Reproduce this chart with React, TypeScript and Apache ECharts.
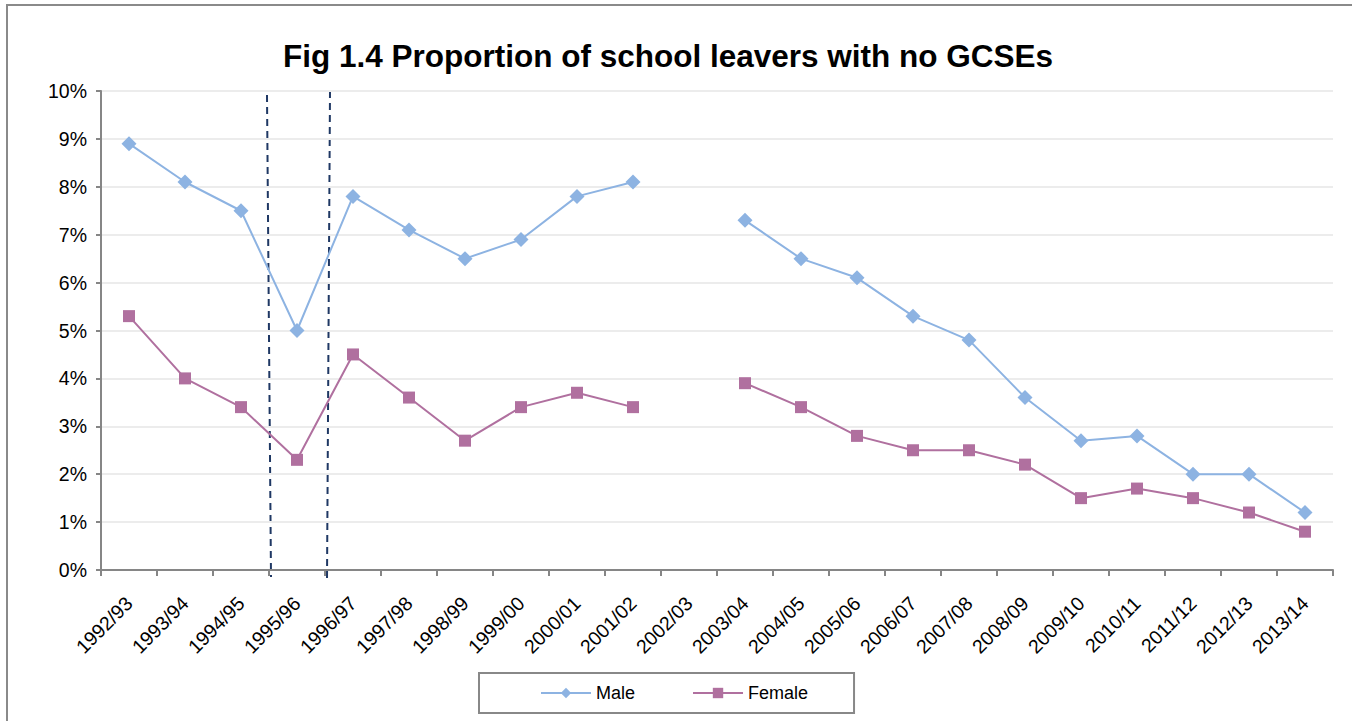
import React, { useEffect, useRef } from "react";
import * as echarts from "echarts";

const categories = [
  "1992/93", "1993/94", "1994/95", "1995/96", "1996/97", "1997/98", "1998/99",
  "1999/00", "2000/01", "2001/02", "2002/03", "2003/04", "2004/05", "2005/06",
  "2006/07", "2007/08", "2008/09", "2009/10", "2010/11", "2011/12", "2012/13", "2013/14",
];
const male = [8.9, 8.1, 7.5, 5.0, 7.8, 7.1, 6.5, 6.9, 7.8, 8.1, null, 7.3, 6.5, 6.1, 5.3, 4.8, 3.6, 2.7, 2.8, 2.0, 2.0, 1.2];
const female = [5.3, 4.0, 3.4, 2.3, 4.5, 3.6, 2.7, 3.4, 3.7, 3.4, null, 3.9, 3.4, 2.8, 2.5, 2.5, 2.2, 1.5, 1.7, 1.5, 1.2, 0.8];
const title = "Fig 1.4 Proportion of school leavers with no GCSEs";

const FONT = "'Liberation Sans', Arial, sans-serif";

export default function App() {
  const ref = useRef<HTMLDivElement>(null);
  useEffect(() => {
    if (!ref.current) return;
    const chart = echarts.init(ref.current, null, { renderer: "svg" });
    chart.setOption({
      animation: false,
      backgroundColor: "#ffffff",
      textStyle: { fontFamily: FONT },
      title: {
        text: title,
        left: 663,
        top: 35,
        textAlign: "center",
        textStyle: { fontSize: 31.5, fontWeight: "bold", color: "#000", fontFamily: FONT },
      },
      grid: { left: 101, right: 19, top: 91, bottom: 151, containLabel: false },
      xAxis: {
        type: "category",
        data: categories,
        boundaryGap: true,
        axisLine: { lineStyle: { color: "#868686", width: 2 } },
        axisTick: { show: true, length: 6, lineStyle: { color: "#868686", width: 2 } },
        axisLabel: { rotate: 45, fontSize: 19.5, color: "#000", margin: 30, interval: 0, fontFamily: FONT },
        splitLine: { show: false },
      },
      yAxis: {
        type: "value",
        min: 0,
        max: 10,
        interval: 1,
        axisLine: { show: true, lineStyle: { color: "#868686", width: 2 } },
        axisTick: { show: true, length: 5, lineStyle: { color: "#868686", width: 2 } },
        axisLabel: { formatter: "{value}%", fontSize: 19.5, color: "#000", margin: 14, fontFamily: FONT },
        splitLine: { lineStyle: { color: "#ececec", width: 2 } },
      },
      legend: {
        bottom: 8,
        left: 479,
        padding: [11, 46, 11, 61],
        itemGap: 57,
        itemWidth: 50,
        itemHeight: 13,
        borderColor: "#888888",
        borderWidth: 2,
        textStyle: { fontSize: 18, color: "#000", fontFamily: FONT },
        data: ["Male", "Female"],
      },
      series: [
        {
          name: "Male",
          type: "line",
          data: male,
          connectNulls: false,
          symbol: "diamond",
          symbolSize: 15,
          lineStyle: { color: "#8db3e2", width: 2 },
          itemStyle: { color: "#8db3e2" },
        },
        {
          name: "Female",
          type: "line",
          data: female,
          connectNulls: false,
          symbol: "rect",
          symbolSize: 12,
          lineStyle: { color: "#b0709f", width: 2 },
          itemStyle: { color: "#b0709f" },
        },
      ],
      graphic: [
        {
          type: "rect",
          shape: { x: 7, y: 5, width: 1360, height: 730 },
          style: { fill: "none", stroke: "#8a8a8a", lineWidth: 2 },
          silent: true,
        },
        {
          type: "line",
          shape: { x1: 267, y1: 95, x2: 271, y2: 577 },
          style: { stroke: "#1f3864", lineWidth: 2, lineDash: [7, 5] },
          silent: true,
        },
        {
          type: "line",
          shape: { x1: 330, y1: 91, x2: 327, y2: 581 },
          style: { stroke: "#1f3864", lineWidth: 2, lineDash: [7, 5] },
          silent: true,
        },
      ],
    });
    return () => chart.dispose();
  }, []);
  return <div ref={ref} style={{ width: 1352, height: 721, position: "absolute", left: 0, top: 0 }} />;
}
